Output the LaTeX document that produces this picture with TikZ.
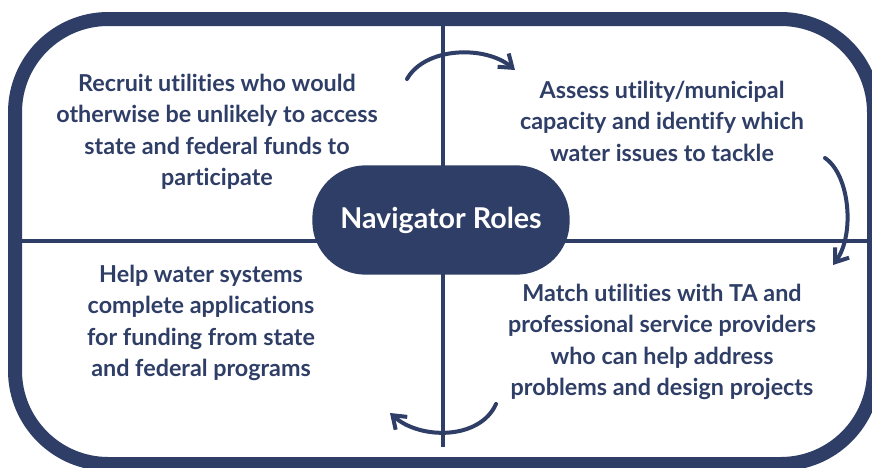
\documentclass[tikz,border=0pt]{standalone}
\usepackage{fontspec}
\setmainfont{Lato}[RawFeature={-liga}]
\usepackage{tikz}
\usetikzlibrary{arrows.meta, positioning}
\definecolor{NavyRole}{RGB}{47, 62, 102}

\begin{document}
\begin{tikzpicture}[
    x=0.75pt, y=-0.75pt,
    frame/.style={draw=NavyRole, line width=10.5pt, rounded corners=70pt},
    divider/.style={draw=NavyRole, line width=2.6pt},
    hub/.style={rectangle, fill=NavyRole, rounded corners=40pt, minimum width=193pt,
                minimum height=82pt, text=white, font=\bfseries\fontsize{21.5}{24}\selectfont},
    role/.style={align=center, text=NavyRole, font=\bfseries\fontsize{17.5}{23.6}\selectfont},
    cycle/.style={draw=NavyRole, line width=3pt, line cap=round,
                  -{Straight Barb[length=9pt, width=13pt, line width=3pt]}}
]
\useasboundingbox (0,0) rectangle (872,468);

% Frame and quadrant lines
\draw[frame] (15,19) rectangle (874,464);
\coordinate (west) at (22,241);
\coordinate (east) at (867,241);
\coordinate (north) at (443,26);
\coordinate (south) at (443,447);
\draw[divider] (west) -- (east);
\draw[divider] (north) -- (south);

% Centre
\node[hub] (hub) at (441,220) {Navigator Roles};

% Roles
\node[role] (recruit) at (217,132) {Recruit utilities who would\\otherwise be unlikely to access\\state and federal funds to\\participate};
\node[role] (assess) at (662,121) {Assess utility/municipal\\capacity and identify which\\water issues to tackle};
\node[role] (match) at (662,342) {Match utilities with TA and\\professional service providers\\who can help address\\problems and design projects};
\node[role] (apply) at (201,323) {Help water systems\\complete applications\\for funding from state\\and federal programs};

% Cycle arrows
\coordinate (a1) at (407,79);
\coordinate (a2) at (515,70);
\coordinate (b1) at (825,158);
\coordinate (b2) at (833,265);
\coordinate (c1) at (496,404);
\coordinate (c2) at (390,413);
\draw[cycle] (a1) .. controls (425,47) and (485,45) .. (a2);
\draw[cycle] (b1) .. controls (850,175) and (855,235) .. (b2);
\draw[cycle] (c1) .. controls (480,440) and (420,440) .. (c2);

\end{tikzpicture}
\end{document}
